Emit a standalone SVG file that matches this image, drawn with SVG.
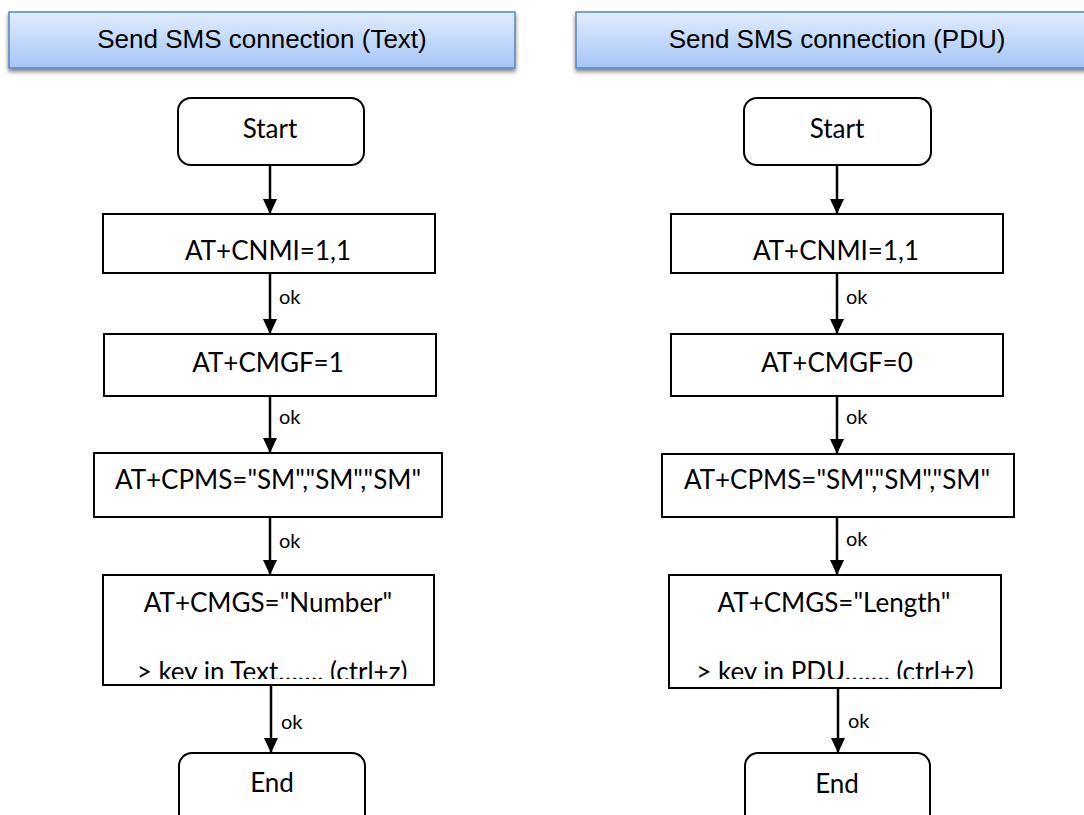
<svg xmlns="http://www.w3.org/2000/svg" width="1084" height="815" viewBox="0 0 1084 815">
<defs>
<linearGradient id="hg" x1="0" y1="0" x2="0" y2="1">
<stop offset="0" stop-color="#e1ecfd"/>
<stop offset="1" stop-color="#a5c5f6"/>
</linearGradient>
<filter id="sh" x="-5%" y="-20%" width="110%" height="160%">
<feDropShadow dx="0" dy="3" stdDeviation="2" flood-color="#000" flood-opacity="0.5"/>
</filter>
<marker id="ah" viewBox="0 0 15 14" refX="15" refY="7" markerWidth="15" markerHeight="14" markerUnits="userSpaceOnUse" orient="auto">
<path d="M0,0 L15,7 L0,14 Z" fill="#000"/>
</marker>
<clipPath id="clipL"><rect x="103" y="575" width="331" height="104"/></clipPath>
<clipPath id="clipR"><rect x="669" y="575" width="332" height="104"/></clipPath>
</defs>
<style>
.hdr{fill:url(#hg);stroke:#5a87c0;stroke-width:1.5;filter:url(#sh)}
.ht{font-family:"Liberation Sans",Arial,sans-serif;font-size:26px;fill:#000;text-anchor:middle}
.box{fill:#fff;stroke:#000;stroke-width:2}
.t{font-family:Lato,"Open Sans",sans-serif;font-size:26px;fill:#000;text-anchor:middle}
.ok{font-family:Lato,"Open Sans",sans-serif;font-size:20px;fill:#000}
.c{stroke:#000;stroke-width:2.5;fill:none;marker-end:url(#ah)}
</style>
<rect width="1084" height="815" fill="#fff"/>

<g id="header-text">
<rect class="hdr" x="9" y="12" width="506" height="56"/>
<text class="ht" x="262" y="48">Send SMS connection (Text)</text>
</g>
<g id="header-pdu">
<rect class="hdr" x="576" y="12" width="520" height="56"/>
<text class="ht" x="837" y="48">Send SMS connection (PDU)</text>
</g>

<g id="connectors">
<line class="c" x1="270" y1="165" x2="270" y2="214"/>
<line class="c" x1="270" y1="273" x2="270" y2="334"/>
<line class="c" x1="270" y1="396" x2="270" y2="453"/>
<line class="c" x1="270" y1="517" x2="270" y2="575"/>
<line class="c" x1="271" y1="685" x2="271" y2="753"/>
<text class="ok" x="279" y="304">ok</text>
<text class="ok" x="279" y="424">ok</text>
<text class="ok" x="279" y="548">ok</text>
<text class="ok" x="281" y="729">ok</text>

<line class="c" x1="837" y1="165" x2="837" y2="214"/>
<line class="c" x1="837" y1="273" x2="837" y2="334"/>
<line class="c" x1="837" y1="396" x2="837" y2="454"/>
<line class="c" x1="837" y1="517" x2="837" y2="575"/>
<line class="c" x1="838" y1="688" x2="838" y2="753"/>
<text class="ok" x="846" y="304">ok</text>
<text class="ok" x="846" y="424">ok</text>
<text class="ok" x="846" y="546">ok</text>
<text class="ok" x="848" y="728">ok</text>
</g>

<g id="start-text">
<rect class="box" x="178" y="98" width="186" height="67" rx="13"/>
<text class="t" x="270" y="138">Start</text>
</g>
<g id="cnmi-text">
<rect class="box" x="103" y="214" width="332" height="59"/>
<text class="t" x="268" y="260">AT+CNMI=1,1</text>
</g>
<g id="cmgf-text">
<rect class="box" x="104" y="334" width="332" height="62"/>
<text class="t" x="268" y="372">AT+CMGF=1</text>
</g>
<g id="cpms-text">
<rect class="box" x="94" y="453" width="348" height="64"/>
<text class="t" x="268" y="489">AT+CPMS="SM","SM","SM"</text>
</g>
<g id="cmgs-text">
<rect class="box" x="103" y="575" width="331" height="110"/>
<text class="t" x="268" y="612">AT+CMGS="Number"</text>
<text class="t" x="272" y="681" clip-path="url(#clipL)">&gt; key in Text……. (ctrl+z)</text>
</g>
<g id="end-text">
<rect class="box" x="179" y="753" width="186" height="80" rx="13"/>
<text class="t" x="272" y="792">End</text>
</g>

<g id="start-pdu">
<rect class="box" x="744" y="98" width="187" height="67" rx="13"/>
<text class="t" x="837" y="138">Start</text>
</g>
<g id="cnmi-pdu">
<rect class="box" x="671" y="214" width="332" height="59"/>
<text class="t" x="836" y="260">AT+CNMI=1,1</text>
</g>
<g id="cmgf-pdu">
<rect class="box" x="671" y="334" width="332" height="62"/>
<text class="t" x="837" y="372">AT+CMGF=0</text>
</g>
<g id="cpms-pdu">
<rect class="box" x="662" y="454" width="352" height="63"/>
<text class="t" x="837" y="489">AT+CPMS="SM","SM","SM"</text>
</g>
<g id="cmgs-pdu">
<rect class="box" x="669" y="575" width="332" height="113"/>
<text class="t" x="834" y="612">AT+CMGS="Length"</text>
<text class="t" x="835" y="681" clip-path="url(#clipR)">&gt; key in PDU……. (ctrl+z)</text>
</g>
<g id="end-pdu">
<rect class="box" x="745" y="753" width="185" height="80" rx="13"/>
<text class="t" x="837" y="793">End</text>
</g>
</svg>
